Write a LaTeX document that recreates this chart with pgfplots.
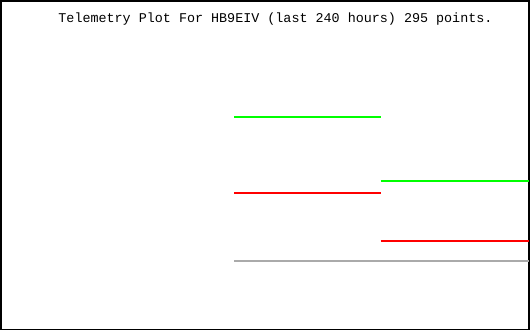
\documentclass[border=0pt]{standalone}
\usepackage{pgfplots}
\pgfplotsset{compat=1.18}
\usepackage{fontspec}
\setmonofont{Liberation Mono}
\begin{document}
\begin{tikzpicture}[x=0.75pt,y=0.75pt]
\begin{axis}[
  scale only axis,
  width=396.5pt, height=246.5pt,
  xmin=0, xmax=530, ymin=0, ymax=330,
  y dir=reverse,
  ticks=none,
  axis line style={black, line width=1.2pt},
  unbounded coords=jump,
  clip=true,
]
\addplot[no markers, color={rgb,255:red,0;green,255;blue,0}, line width=1.5pt] coordinates {(234,117) (381,117) (381,nan) (381,181) (530,181)};
\addplot[no markers, color={rgb,255:red,255;green,0;blue,0}, line width=1.5pt] coordinates {(234,193) (381,193) (381,nan) (381,241) (530,241)};
\addplot[no markers, color={rgb,255:red,170;green,170;blue,170}, line width=1.5pt] coordinates {(234,261) (530,261)};
\node[font=\ttfamily\fontsize{10.05pt}{12pt}\selectfont, anchor=center] at (axis cs:275.5,18) {Telemetry Plot For HB9EIV (last 240 hours) 295 points.};
\end{axis}
\end{tikzpicture}
\end{document}
